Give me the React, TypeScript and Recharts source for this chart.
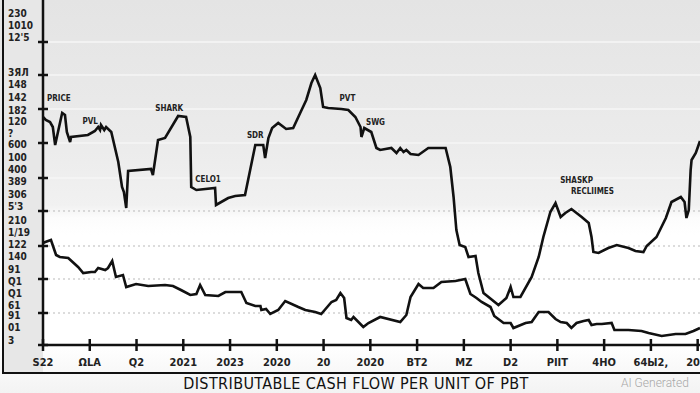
import { LineChart, Line, XAxis, YAxis, ReferenceLine, ReferenceDot } from "recharts";

// axis text
const xLabels = ["S22", "ΩLA", "Q2", "2021", "2023", "2020", "20", "2020", "BT2", "MZ", "D2", "PIIT", "4HO", "64Ы2,", "20"];
const xTicks = xLabels.map((_, i) => i * 10);

const yLabelText = ["230", "1010", "12'5", "3ЯЛ", "148", "142", "182", "120", "?", "600", "100", "400", "389", "306", "5'3", "210", "1/19", "122", "140", "91", "Q1", "Q1", "61", "91", "01", "3"];
const yLabelAt = [332, 320, 308, 273, 261, 248, 235, 224, 212, 201, 188, 176, 164, 151, 139, 125, 113, 101, 89, 76, 64, 52, 40, 30, 18, 5];
const yMarks = [303, 270, 236, 202, 167, 134, 99, 66, 32, 0];
const dottedGrid = [134, 99, 66, 32];
const fadedGrid = [303, 270, 236, 202, 167];

// upper series [x, y]
const upperLine = [
  [0, 228], [0.6, 225], [1.5, 223], [2.1, 218], [2.6, 200], [3.2, 213], [4.1, 232], [4.7, 230],
  [5.1, 213], [5.8, 203], [6.0, 208], [9.6, 210], [11.1, 214], [11.8, 218], [12.2, 215], [12.4, 220],
  [13.1, 215], [13.5, 218], [14.6, 213], [16.1, 183], [16.9, 158], [17.3, 153], [17.8, 137], [18.2, 174],
  [23.1, 176], [23.5, 170], [24.6, 205], [26.1, 207], [28.9, 229], [30.6, 228], [31.5, 208], [31.7, 158],
  [32.8, 155], [36.8, 157], [37.0, 140], [39.6, 147], [41.1, 149], [43.2, 150], [44.3, 175], [45.4, 200],
  [47.1, 200], [47.5, 187], [48.2, 207], [49.0, 217], [50.3, 222], [52.0, 216], [53.5, 217], [55.0, 232],
  [56.3, 245], [57.4, 262], [58.2, 270], [59.3, 257], [59.9, 238], [61.0, 237], [63.8, 236], [65.3, 235],
  [66.8, 228], [67.9, 218], [68.1, 208], [68.7, 217], [70.2, 213], [71.3, 197], [72.1, 195], [74.5, 197],
  [75.6, 192], [76.4, 197], [77.1, 193], [77.7, 195], [78.6, 191], [80.3, 190], [82.4, 197], [86.1, 197],
  [87.1, 178], [87.8, 148], [88.4, 115], [89.1, 100], [90.3, 98], [91.0, 88], [92.5, 89], [93.1, 72],
  [94.2, 52], [97.4, 40], [99.1, 47], [100.0, 58], [100.6, 48], [102.1, 48], [104.5, 68], [106.0, 88],
  [107.0, 108], [108.5, 133], [109.6, 142], [110.7, 128], [111.7, 132], [113.0, 136], [115.2, 128], [116.7, 122],
  [117.3, 108], [117.7, 93], [118.8, 92], [120.9, 97], [122.7, 100], [125.2, 97], [126.7, 94], [128.4, 93],
  [129.1, 99], [131.2, 108], [133.2, 127], [134.4, 143], [136.4, 148], [137.2, 143], [137.6, 127], [138.1, 135],
  [138.5, 175], [138.7, 185], [139.6, 192], [140.5, 204],
];

// lower series [x, y]
const lowerLine = [
  [0, 102], [0.5, 103], [1.7, 105], [2.8, 90], [3.6, 88], [5.4, 87], [7.5, 78], [8.6, 72],
  [10.3, 73], [11.1, 73], [11.8, 77], [13.3, 75], [13.9, 77], [14.8, 84], [15.6, 68], [17.1, 70],
  [17.8, 58], [19.9, 61], [22.5, 59], [26.1, 60], [27.8, 59], [29.5, 55], [31.5, 50], [32.8, 51],
  [33.6, 60], [34.7, 50], [37.5, 49], [39.0, 53], [42.4, 53], [43.5, 42], [45.4, 39], [46.5, 39],
  [46.7, 35], [47.7, 36], [48.6, 31], [50.3, 35], [51.8, 44], [54.6, 38], [56.1, 35], [58.2, 33],
  [59.5, 31], [61.7, 43], [62.7, 45], [63.6, 52], [64.4, 47], [64.9, 27], [65.9, 25], [66.4, 28],
  [68.5, 18], [69.6, 22], [72.1, 28], [76.4, 23], [77.7, 30], [78.6, 48], [80.3, 61], [81.3, 57],
  [83.5, 57], [85.2, 63], [88.2, 64], [90.3, 66], [91.4, 51], [92.7, 47], [93.8, 43], [95.7, 38],
  [96.5, 29], [98.5, 22], [100.0, 22], [100.6, 17], [103.2, 22], [104.5, 23], [106.0, 33], [108.1, 33],
  [109.6, 26], [110.7, 23], [112.0, 22], [113.0, 17], [114.1, 22], [115.6, 24], [116.7, 25], [117.3, 20],
  [118.4, 21], [119.5, 21], [121.6, 22], [122.2, 15], [125.2, 15], [128.0, 14], [129.5, 12], [132.3, 9],
  [135.3, 11], [137.4, 11], [139.1, 14], [140.5, 17],
];

// callouts written on the plot
const noteText = ["PRICE", "PVL", "SHARK", "CELO1", "SDR", "PVT", "SWG", "SHASKP", "RECLIIMES"];
const noteX = [3.4, 10.1, 27.0, 35.3, 45.4, 65.1, 71.1, 114.1, 117.5];
const noteY = [247, 224, 237, 166, 210, 247, 223, 165, 154];

const ink = "#111";
const tickFont = "'DejaVu Sans Condensed', 'DejaVu Sans', sans-serif";

const upperData = upperLine.map(([x, y]) => ({ x, y }));
const lowerData = lowerLine.map(([x, y]) => ({ x, y }));

function YTick({ y, payload }: any) {
  const i = yLabelAt.indexOf(payload.value);
  if (i >= 0) {
    return (
      <text x={8} y={y} dy={3.5} fontSize={10} fontWeight={700} fill="#222" fontFamily={tickFont}>
        {yLabelText[i]}
      </text>
    );
  }
  return <line x1={38} x2={48} y1={y} y2={y} stroke={ink} strokeWidth={2.5} />;
}

function XTick({ x, payload }: any) {
  const idx = Math.round(payload.value / 10);
  const last = idx === xLabels.length - 1;
  return (
    <g>
      <line x1={x} x2={x} y1={339} y2={351} stroke={ink} strokeWidth={2.5} />
      <text
        x={last ? 700 : x}
        y={366}
        textAnchor={last ? "end" : "middle"}
        fontSize={11}
        fontWeight={700}
        fill="#222"
        fontFamily={tickFont}
      >
        {xLabels[idx]}
      </text>
    </g>
  );
}

export default function App() {
  return (
    <div
      style={{
        position: "fixed",
        left: 0,
        top: 0,
        width: 700,
        height: 393,
        overflow: "hidden",
        background:
          "linear-gradient(#e4e4e4 0px, #ebebeb 140px, #f1f1f1 205px, #fcfcfc 218px, #ffffff 235px, #ffffff 345px, #f3f3f3 393px)",
      }}
    >
      <div style={{ position: "absolute", left: 3, top: 0, width: 40, height: 373, background: "#e7e7e7" }} />
      <div style={{ position: "absolute", left: 2, top: 0, width: 2, height: 374, background: ink }} />
      <div style={{ position: "absolute", left: 2, top: 372, width: 698, height: 2, background: ink }} />
      <div style={{ position: "absolute", left: 0, top: 0 }}>
        <LineChart width={700} height={393} margin={{ top: 0, right: 0, left: 0, bottom: 20 }}>
          <XAxis
            type="number"
            dataKey="x"
            domain={[0, 140.5]}
            ticks={xTicks}
            interval={0}
            allowDataOverflow
            height={28}
            axisLine={{ stroke: ink, strokeWidth: 2.5 }}
            tickLine={false}
            tick={<XTick />}
          />
          <YAxis
            type="number"
            domain={[0, 345]}
            ticks={[...yLabelAt, ...yMarks]}
            interval={0}
            allowDataOverflow
            width={43}
            axisLine={{ stroke: ink, strokeWidth: 2.5 }}
            tickLine={false}
            tick={<YTick />}
          />
          {fadedGrid.map((v) => (
            <ReferenceLine key={"f" + v} y={v} stroke="#f6f6f6" strokeWidth={1.5} />
          ))}
          {dottedGrid.map((v) => (
            <ReferenceLine key={"d" + v} y={v} stroke="#b9b9b9" strokeDasharray="2 3" />
          ))}
          <Line data={upperData} dataKey="y" type="linear" stroke={ink} strokeWidth={2.6} dot={false} isAnimationActive={false} />
          <Line data={lowerData} dataKey="y" type="linear" stroke={ink} strokeWidth={2.6} dot={false} isAnimationActive={false} />
          {noteText.map((t, i) => (
            <ReferenceDot
              key={t}
              x={noteX[i]}
              y={noteY[i]}
              r={0}
              stroke="none"
              fill="none"
              ifOverflow="visible"
              label={{ value: t, position: "center", fontSize: 8, fontWeight: 700, fill: "#222", fontFamily: tickFont }}
            />
          ))}
        </LineChart>
      </div>
      <div
        style={{
          position: "absolute",
          left: 0,
          width: 712,
          top: 375,
          textAlign: "center",
          fontFamily: "'DejaVu Sans Condensed', 'Liberation Sans Narrow', sans-serif",
          fontSize: 16,
          color: ink,
          letterSpacing: 0.4,
          lineHeight: "18px",
        }}
      >
        DISTRIBUTABLE CASH FLOW PER UNIT OF PBT
      </div>
      <div
        style={{
          position: "absolute",
          left: 621,
          top: 376,
          fontFamily: "Roboto, sans-serif",
          fontWeight: 300,
          fontSize: 12,
          color: "#a8a8a8",
        }}
      >
        AI Generated
      </div>
    </div>
  );
}
